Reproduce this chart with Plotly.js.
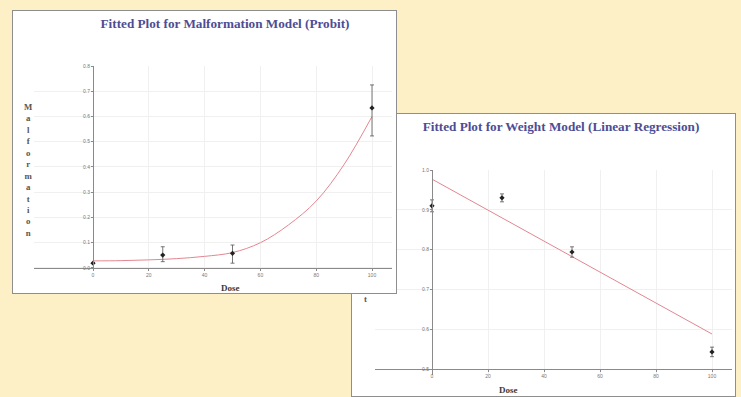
<!DOCTYPE html>
<html>
<head>
<meta charset="utf-8">
<script src="https://cdn.plot.ly/plotly-3.0.1.min.js"></script>
<style>
  html, body { margin: 0; padding: 0; }
  body { width: 741px; height: 397px; background: #fdf0c6; position: relative; overflow: hidden; }
  .panel { position: absolute; width: 385px; height: 284px; box-sizing: border-box; border: 1px solid #8e8e8e; background: #fff; }
  #left { left: 12px; top: 10px; z-index: 2; }
  #right { left: 351px; top: 113px; z-index: 1; }
</style>
</head>
<body>
<div id="left" class="panel"></div>
<div id="right" class="panel"></div>
<script>
// ---- Malformation model (Probit) ----
const malfDose = [0, 25, 50, 100];
const malfRate = [0.019, 0.051, 0.058, 0.634];
const malfErrPlus = [0, 0.033, 0.033, 0.091];
const malfErrMinus = [0, 0.026, 0.039, 0.111];
const probitDose = [0, 10, 20, 30, 40, 50, 60, 70, 80, 90, 100];
const probitFit = [0.028, 0.029, 0.032, 0.037, 0.046, 0.061, 0.100, 0.170, 0.265, 0.410, 0.600];
const malfTickVals = [0, 0.1, 0.2, 0.3, 0.4, 0.5, 0.6, 0.7, 0.8];
const malfTickText = ['0.0', '0.1', '0.2', '0.3', '0.4', '0.5', '0.6', '0.7', '0.8'];

// ---- Weight model (Linear Regression) ----
const weightDose = [0, 25, 50, 100];
const weightMean = [0.910, 0.930, 0.794, 0.543];
const weightErr = [0.015, 0.010, 0.013, 0.012];
const linearDose = [0, 100];
const linearFit = [0.977, 0.588];
const weightTickVals = [0.5, 0.6, 0.7, 0.8, 0.9, 1.0];
const weightTickText = ['0.5', '0.6', '0.7', '0.8', '0.9', '1.0'];

const doseTickVals = [0, 20, 40, 60, 80, 100];
const doseTickText = ['0', '20', '40', '60', '80', '100'];

const W = 383, H = 282;
const titleFont = { family: 'Liberation Serif, Times New Roman, serif', size: 13.2, color: '#4d4d95', weight: 'bold' };
const labFont = { family: 'Liberation Serif, Times New Roman, serif', size: 9, color: '#3a3a3a', weight: 'bold' };
const tickFont = { family: 'Liberation Sans, Arial, sans-serif', size: 5, color: '#777' };

function axisBase() {
  return {
    showline: true, linecolor: '#8a8a8a', linewidth: 1,
    zeroline: false, showgrid: true, gridcolor: '#f0f0f0', gridwidth: 1,
    ticks: 'outside', ticklen: 2, tickcolor: '#8a8a8a', tickfont: tickFont,
    fixedrange: true
  };
}

// Left chart
const leftTraces = [
  { x: probitDose, y: probitFit, type: 'scatter', mode: 'lines',
    line: { color: '#e28691', width: 1, shape: 'spline' }, hoverinfo: 'skip' },
  { x: malfDose, y: malfRate, type: 'scatter', mode: 'markers',
    marker: { color: '#222', size: 4, symbol: 'diamond' },
    error_y: { type: 'data', symmetric: false, array: malfErrPlus, arrayminus: malfErrMinus,
               color: '#555', thickness: 0.8, width: 2 } }
];
const leftLayout = {
  width: W, height: H, margin: { l: 0, r: 0, t: 0, b: 0 },
  paper_bgcolor: '#fff', plot_bgcolor: '#fff', showlegend: false,
  title: { text: 'Fitted Plot for Malformation Model (Probit)', font: titleFont,
           x: 212 / W, y: 1 - 12 / H, xanchor: 'center', yanchor: 'middle' },
  xaxis: Object.assign(axisBase(), {
    range: [-21, 107], domain: [(80 - 21 * 2.79) / W, (80 + 107 * 2.79) / W],
    anchor: 'free', position: 1 - 257 / H,
    tickvals: doseTickVals, ticktext: doseTickText
  }),
  yaxis: Object.assign(axisBase(), {
    range: [-0.012, 0.8], domain: [1 - 260 / H, 1 - 55 / H],
    anchor: 'free', position: 80 / W,
    tickvals: malfTickVals, ticktext: malfTickText
  }),
  annotations: [
    { text: 'Dose', xref: 'paper', yref: 'paper', x: 217 / W, y: 1 - 277 / H,
      xanchor: 'center', yanchor: 'middle', showarrow: false, font: labFont },
    { text: 'M<br>a<br>l<br>f<br>o<br>r<br>m<br>a<br>t<br>i<br>o<br>n', xref: 'paper', yref: 'paper',
      x: 15 / W, y: 1 - 159 / H, xanchor: 'center', yanchor: 'middle', showarrow: false,
      font: { family: 'Liberation Serif, serif', size: 8.8, color: '#555', weight: 'bold' } }
  ]
};

// Right chart
const rightTraces = [
  { x: linearDose, y: linearFit, type: 'scatter', mode: 'lines',
    line: { color: '#e28691', width: 1 }, hoverinfo: 'skip' },
  { x: weightDose, y: weightMean, type: 'scatter', mode: 'markers',
    marker: { color: '#222', size: 4, symbol: 'diamond' },
    error_y: { type: 'data', array: weightErr, color: '#555', thickness: 0.8, width: 2 } }
];
const rightLayout = {
  width: W, height: H, margin: { l: 0, r: 0, t: 0, b: 0 },
  paper_bgcolor: '#fff', plot_bgcolor: '#fff', showlegend: false,
  title: { text: 'Fitted Plot for Weight Model (Linear Regression)', font: titleFont,
           x: 209 / W, y: 1 - 12 / H, xanchor: 'center', yanchor: 'middle' },
  xaxis: Object.assign(axisBase(), {
    range: [-20.5, 107], domain: [(80 - 20.5 * 2.8) / W, (80 + 107 * 2.8) / W],
    anchor: 'free', position: 1 - 255 / H,
    tickvals: doseTickVals, ticktext: doseTickText
  }),
  yaxis: Object.assign(axisBase(), {
    range: [0.485, 1.0], domain: [1 - 261 / H, 1 - 56 / H],
    anchor: 'free', position: 80 / W,
    tickvals: weightTickVals, ticktext: weightTickText
  }),
  annotations: [
    { text: 'Dose', xref: 'paper', yref: 'paper', x: 156 / W, y: 1 - 276 / H,
      xanchor: 'center', yanchor: 'middle', showarrow: false, font: labFont },
    { text: 'W<br>e<br>i<br>g<br>h<br>t', xref: 'paper', yref: 'paper',
      x: 13 / W, y: 1 - 192 / H, xanchor: 'center', yanchor: 'bottom', showarrow: false,
      font: { family: 'Liberation Serif, serif', size: 8.8, color: '#555', weight: 'bold' } }
  ]
};

const cfg = { displayModeBar: false, staticPlot: true };
Plotly.newPlot('left', leftTraces, leftLayout, cfg);
Plotly.newPlot('right', rightTraces, rightLayout, cfg);
</script>
</body>
</html>
